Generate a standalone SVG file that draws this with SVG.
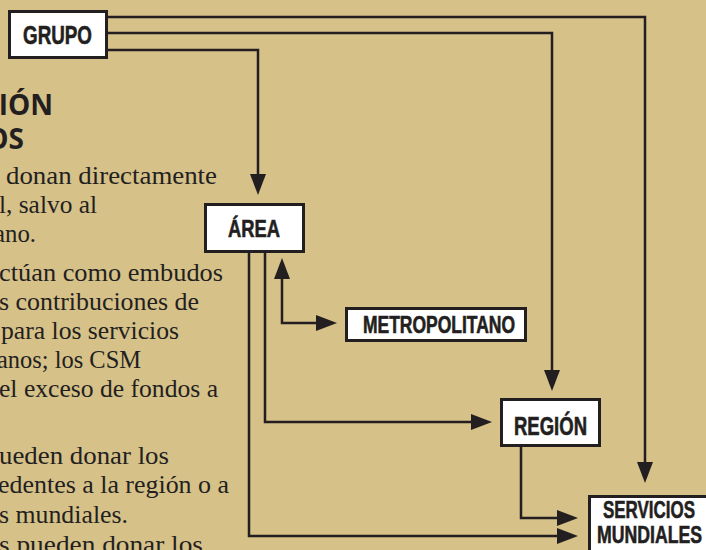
<svg xmlns="http://www.w3.org/2000/svg" width="706" height="550" viewBox="0 0 706 550">
<defs>
<style>
.bg{fill:#d6c189}
.box{fill:#ffffff;stroke:#231f20;stroke-width:3}
.lbl{font-family:"Liberation Sans",Arial,sans-serif;font-weight:bold;fill:#231f20;stroke:#231f20;stroke-width:0.6;text-anchor:middle}
.body{font-family:"Liberation Serif","Times New Roman",serif;font-size:26px;fill:#231f20}
.head{font-family:"Open Sans","Liberation Sans",sans-serif;font-weight:bold;font-size:28px;fill:#231f20;text-anchor:end}
.conn{fill:none;stroke:#231f20;stroke-width:2.5;stroke-linejoin:miter}
</style>
<marker id="arr" viewBox="0 0 21 16" refX="11" refY="8" markerWidth="21" markerHeight="16" markerUnits="userSpaceOnUse" orient="auto-start-reverse">
<path d="M0,0 L21,8 L0,16 z" fill="#231f20"/>
</marker>
</defs>
<rect class="bg" x="0" y="0" width="706" height="550"/>

<g id="text-column">
<text class="head" x="53" y="115">IÓN</text>
<text class="head" x="24" y="149">OS</text>
<text class="body" x="6" y="184" textLength="211" lengthAdjust="spacingAndGlyphs">donan directamente</text>
<text class="body" x="-1" y="213" textLength="98" lengthAdjust="spacingAndGlyphs">l, salvo al</text>
<text class="body" x="-6" y="242" textLength="42" lengthAdjust="spacingAndGlyphs">ano.</text>
<text class="body" x="-1" y="281" textLength="224" lengthAdjust="spacingAndGlyphs">ctúan como embudos</text>
<text class="body" x="-1" y="310" textLength="200" lengthAdjust="spacingAndGlyphs">s contribuciones de</text>
<text class="body" x="1" y="339" textLength="178" lengthAdjust="spacingAndGlyphs">para los servicios</text>
<text class="body" x="-3" y="368" textLength="144" lengthAdjust="spacingAndGlyphs">anos; los CSM</text>
<text class="body" x="-1" y="397" textLength="219" lengthAdjust="spacingAndGlyphs">el exceso de fondos a</text>
<text class="body" x="-1" y="464" textLength="170" lengthAdjust="spacingAndGlyphs">ueden donar los</text>
<text class="body" x="-2" y="493" textLength="231" lengthAdjust="spacingAndGlyphs">edentes a la región o a</text>
<text class="body" x="-1" y="523" textLength="129" lengthAdjust="spacingAndGlyphs">s mundiales.</text>
<text class="body" x="-1" y="553" textLength="204" lengthAdjust="spacingAndGlyphs">s pueden donar los</text>
</g>

<g id="connectors">
<path class="conn" d="M106,17 H645 V473" marker-end="url(#arr)"/>
<path class="conn" d="M106,33 H552 V381" marker-end="url(#arr)"/>
<path class="conn" d="M106,50 H258 V185" marker-end="url(#arr)"/>
<path class="conn" d="M282,268 V323 H327" marker-start="url(#arr)" marker-end="url(#arr)"/>
<path class="conn" d="M265,252 V422 H482" marker-end="url(#arr)"/>
<path class="conn" d="M249,252 V536 H568" marker-end="url(#arr)"/>
<path class="conn" d="M521,446 V518 H568" marker-end="url(#arr)"/>
</g>

<g id="grupo">
<rect class="box" x="9.5" y="11.5" width="97" height="46"/>
<text class="lbl" x="57.5" y="44" font-size="26" textLength="69" lengthAdjust="spacingAndGlyphs">GRUPO</text>
</g>
<g id="area">
<rect class="box" x="205.5" y="204.5" width="98" height="47"/>
<text class="lbl" x="254" y="237" font-size="24" textLength="52" lengthAdjust="spacingAndGlyphs">ÁREA</text>
</g>
<g id="metropolitano">
<rect class="box" x="346.5" y="308.5" width="179" height="32"/>
<text class="lbl" x="439" y="333" font-size="23" textLength="152" lengthAdjust="spacingAndGlyphs">METROPOLITANO</text>
</g>
<g id="region">
<rect class="box" x="501.5" y="399.5" width="98" height="46"/>
<text class="lbl" x="550.5" y="435" font-size="25" textLength="73" lengthAdjust="spacingAndGlyphs">REGIÓN</text>
</g>
<g id="servicios-mundiales">
<rect class="box" x="589.5" y="496.5" width="130" height="70"/>
<text class="lbl" x="649" y="518" font-size="24" textLength="92" lengthAdjust="spacingAndGlyphs">SERVICIOS</text>
<text class="lbl" x="649.5" y="543" font-size="24" textLength="105" lengthAdjust="spacingAndGlyphs">MUNDIALES</text>
</g>
</svg>
